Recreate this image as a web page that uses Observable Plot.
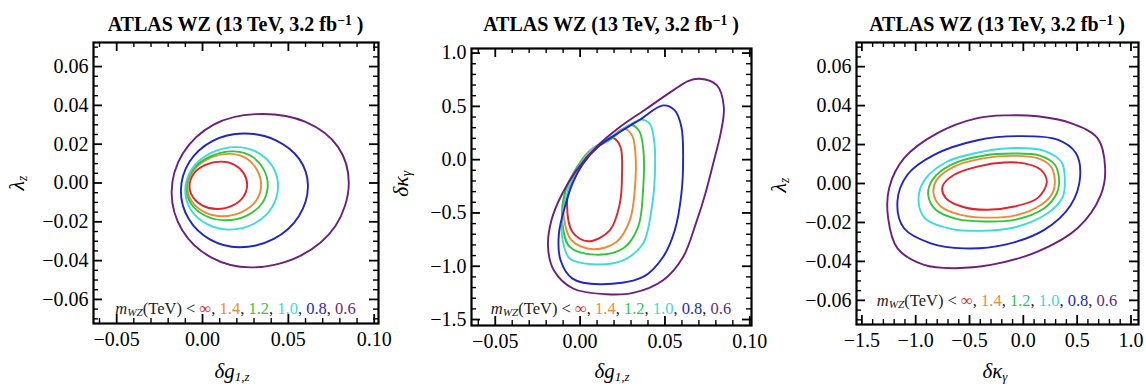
<!DOCTYPE html>
<html><head><meta charset="utf-8">
<script src="https://cdn.jsdelivr.net/npm/d3@7"></script>
<script src="https://cdn.jsdelivr.net/npm/@observablehq/plot@0.6"></script>
<style>
html,body{margin:0;padding:0;background:#fff;}
#root{position:relative;width:1146px;height:389px;overflow:hidden;font-family:"Liberation Serif","Times New Roman",serif;color:#000;}
.pnl{position:absolute;top:0;}
.pnl svg{overflow:visible;}
.t{position:absolute;white-space:nowrap;line-height:1;transform:translateX(-50%);}
.title{font-weight:bold;font-size:20px;}
.title sup{font-size:0.68em;position:relative;top:-0.45em;vertical-align:baseline;}
.xl{font-size:21px;font-style:italic;}
.yl{position:absolute;white-space:nowrap;line-height:1;font-size:22px;font-style:italic;transform:translate(-50%,-50%) rotate(-90deg);}
.xl sub,.yl sub{font-size:0.62em;position:relative;top:0.22em;vertical-align:baseline;}
.leg{font-size:16.5px;color:#222;}
.leg sub{font-size:0.68em;position:relative;top:0.25em;vertical-align:baseline;}
</style></head><body><div id="root"></div>
<script>
// ---- data ----
const massCuts = ["∞", "1.4", "1.2", "1.0", "0.8", "0.6"];

// Panel 1: (δg1,z , λz)
const p1_inf = [[0.0260,-0.0010],[0.0240,0.0050],[0.0185,0.0094],[0.0110,0.0110],[0.0017,0.0093],[-0.0051,0.0048],[-0.0076,-0.0015],[-0.0054,-0.0075],[0.0004,-0.0118],[0.0085,-0.0134],[0.0173,-0.0117],[0.0237,-0.0072]];
const p1_14 = [[0.0341,-0.0015],[0.0317,0.0068],[0.0253,0.0128],[0.0165,0.0150],[0.0039,0.0127],[-0.0053,0.0063],[-0.0087,-0.0025],[-0.0060,-0.0098],[0.0014,-0.0151],[0.0115,-0.0171],[0.0228,-0.0150],[0.0311,-0.0093]];
const p1_12 = [[0.0380,-0.0015],[0.0354,0.0074],[0.0283,0.0139],[0.0185,0.0163],[0.0045,0.0137],[-0.0058,0.0067],[-0.0095,-0.0030],[-0.0064,-0.0111],[0.0020,-0.0170],[0.0135,-0.0192],[0.0258,-0.0168],[0.0347,-0.0104]];
const p1_10 = [[0.0440,-0.0015],[0.0408,0.0085],[0.0320,0.0158],[0.0200,0.0185],[0.0050,0.0155],[-0.0061,0.0073],[-0.0101,-0.0040],[-0.0066,-0.0140],[0.0030,-0.0213],[0.0160,-0.0240],[0.0300,-0.0210],[0.0403,-0.0128]];
const p1_08 = [[0.0614,-0.0010],[0.0564,0.0123],[0.0427,0.0220],[0.0240,0.0255],[0.0057,0.0216],[-0.0077,0.0108],[-0.0126,-0.0040],[-0.0080,-0.0186],[0.0045,-0.0292],[0.0215,-0.0331],[0.0415,-0.0288],[0.0561,-0.0171]];
const p1_06 = [[0.0852,-0.0005],[0.0790,0.0185],[0.0600,0.0315],[0.0310,0.0355],[0.0065,0.0301],[-0.0114,0.0153],[-0.0180,-0.0050],[-0.0118,-0.0243],[0.0050,-0.0383],[0.0280,-0.0435],[0.0566,-0.0377],[0.0775,-0.0220]];

// Panel 2: (δg1,z , δκγ)
const p2_inf = [[0.0194,0.203],[0.0238,0.119],[0.0247,-0.131],[0.0234,-0.4125],[0.0175,-0.6625],[0.0047,-0.766],[-0.0045,-0.678],[-0.0077,-0.4125],[-0.0057,-0.225],[-0.0002,-0.053],[0.0096,0.1125]];
const p2_14 = [[0.0257,0.291],[0.0306,0.228],[0.0326,0.056],[0.0322,-0.2875],[0.0293,-0.569],[0.0214,-0.772],[0.0077,-0.841],[-0.0051,-0.756],[-0.0096,-0.5375],[-0.0090,-0.319],[-0.0041,-0.131],[0.0057,0.0875],[0.0165,0.185]];
const p2_12 = [[0.0297,0.325],[0.0348,0.269],[0.0373,0.0875],[0.0371,-0.2875],[0.0342,-0.631],[0.0253,-0.834],[0.0086,-0.891],[-0.0061,-0.819],[-0.0104,-0.600],[-0.0096,-0.350],[-0.0041,-0.131],[0.0057,0.072],[0.0185,0.197]];
const p2_10 = [[0.0355,0.375],[0.0410,0.3375],[0.0436,0.181],[0.0440,-0.1625],[0.0420,-0.475],[0.0371,-0.7875],[0.0253,-0.944],[0.0067,-0.981],[-0.0061,-0.928],[-0.0106,-0.725],[-0.0100,-0.475],[-0.0071,-0.2875],[-0.0022,-0.100],[0.0077,0.103],[0.0214,0.244]];
const p2_08 = [[0.0489,0.509],[0.0558,0.4625],[0.0597,0.306],[0.0607,-0.006],[0.0597,-0.319],[0.0558,-0.6625],[0.0489,-0.9125],[0.0371,-1.100],[0.0116,-1.169],[-0.0045,-1.116],[-0.0115,-0.944],[-0.0125,-0.694],[-0.0084,-0.4125],[-0.0045,-0.225],[0.0018,-0.0375],[0.0116,0.134],[0.0234,0.259],[0.0352,0.375]];
const p2_06 = [[0.0705,0.759],[0.0807,0.697],[0.0847,0.494],[0.0830,0.260],[0.0790,0.000],[0.0738,-0.319],[0.0682,-0.600],[0.0607,-0.9125],[0.0489,-1.131],[0.0312,-1.250],[0.0155,-1.2625],[-0.0041,-1.209],[-0.0155,-1.0375],[-0.0189,-0.819],[-0.0169,-0.569],[-0.0110,-0.334],[-0.0022,-0.100],[0.0096,0.119],[0.0234,0.306],[0.0391,0.478],[0.0548,0.650],[0.0636,0.7375]];

// Panel 3: (δκγ , λz)
const p3_inf = [[0.218,0.0007],[0.163,0.0070],[0.008,0.0103],[-0.178,0.0108],[-0.426,0.0087],[-0.643,0.0045],[-0.751,-0.0015],[-0.720,-0.0075],[-0.550,-0.0122],[-0.333,-0.0135],[-0.085,-0.0118],[0.132,-0.0075]];
const p3_14 = [[0.293,0.0010],[0.256,0.0087],[0.132,0.0130],[-0.116,0.0142],[-0.364,0.0130],[-0.643,0.0087],[-0.804,0.0019],[-0.835,-0.0050],[-0.767,-0.0118],[-0.581,-0.0161],[-0.364,-0.0175],[-0.085,-0.0165],[0.163,-0.0110],[0.271,-0.0050]];
const p3_12 = [[0.333,0.0010],[0.293,0.0096],[0.147,0.0144],[-0.085,0.0154],[-0.364,0.0144],[-0.674,0.0096],[-0.844,0.0019],[-0.884,-0.0058],[-0.813,-0.0135],[-0.612,-0.0183],[-0.364,-0.0195],[-0.085,-0.0187],[0.194,-0.0127],[0.311,-0.0050]];
const p3_10 = [[0.386,0.0010],[0.355,0.0110],[0.194,0.0168],[-0.054,0.0182],[-0.364,0.0165],[-0.705,0.0113],[-0.915,0.0020],[-0.974,-0.0080],[-0.915,-0.0178],[-0.674,-0.0233],[-0.395,-0.0243],[-0.085,-0.0226],[0.225,-0.0153],[0.364,-0.0072]];
const p3_08 = [[0.528,0.0036],[0.488,0.0156],[0.318,0.0225],[-0.054,0.0243],[-0.426,0.0222],[-0.829,0.0147],[-1.077,0.0045],[-1.170,-0.0093],[-1.108,-0.0230],[-0.860,-0.0307],[-0.550,-0.0333],[-0.178,-0.0315],[0.194,-0.0238],[0.441,-0.0110]];
const p3_06 = [[0.760,0.0079],[0.689,0.0233],[0.441,0.0310],[0.132,0.0345],[-0.147,0.0350],[-0.426,0.0336],[-0.798,0.0259],[-1.108,0.0130],[-1.247,-0.0024],[-1.256,-0.0178],[-1.169,-0.0333],[-0.922,-0.0418],[-0.643,-0.0435],[-0.302,-0.0418],[0.132,-0.0350],[0.503,-0.0230],[0.720,-0.0058]];

// tick values
const dgTicks = [-0.05, 0, 0.05, 0.10];
const lzTicks = [-0.06, -0.04, -0.02, 0, 0.02, 0.04, 0.06];
const dkTicks = [-1.5, -1.0, -0.5, 0, 0.5, 1.0];

// ---- styles ----
const palette = ["#e3222a", "#ee8a36", "#33c63a", "#3adcdc", "#1f24cc", "#6c1f7c"];
const FONT = '"Liberation Serif","Times New Roman",serif';

function minorTicks(domain, step, majors) {
  const a = Math.ceil(domain[0] / step - 1e-9), b = Math.floor(domain[1] / step + 1e-9);
  return d3.range(a, b + 1).map(i => +(i * step).toFixed(6))
    .filter(v => !majors.some(m => Math.abs(m - v) < step / 10));
}

function panel(cfg) {
  const {contours, xDomain, yDomain, width, height, mT, mR, mB, mL,
         xMajor, yMajor, xStep, yStep, xFmt, yFmt} = cfg;
  const ih = height - mT - mB, iw = width - mL - mR;
  const kx = (xDomain[1] - xDomain[0]) / iw, ky = (yDomain[1] - yDomain[0]) / ih;
  const rows = [];
  contours.forEach((pts, k) => pts.forEach(([x, y]) => rows.push({m: massCuts[k], x, y})));
  const xMin = minorTicks(xDomain, xStep, xMajor);
  const yMin = minorTicks(yDomain, yStep, yMajor);
  const MAJ = 9, MIN = 5;
  const xt = (vals, len, sw) => [
    Plot.ruleX(vals, {x: d => d, y1: yDomain[0], y2: yDomain[0] + len * ky, stroke: "#000", strokeWidth: sw}),
    Plot.ruleX(vals, {x: d => d, y1: yDomain[1], y2: yDomain[1] - len * ky, stroke: "#000", strokeWidth: sw})];
  const yt = (vals, len, sw) => [
    Plot.ruleY(vals, {y: d => d, x1: xDomain[0], x2: xDomain[0] + len * kx, stroke: "#000", strokeWidth: sw}),
    Plot.ruleY(vals, {y: d => d, x1: xDomain[1], x2: xDomain[1] - len * kx, stroke: "#000", strokeWidth: sw})];
  return Plot.plot({
    width, height, marginTop: mT, marginRight: mR, marginBottom: mB, marginLeft: mL,
    style: {background: "transparent", overflow: "visible", fontFamily: FONT, fontSize: "20px", color: "#000"},
    x: {domain: xDomain}, y: {domain: yDomain},
    color: {domain: massCuts, range: palette},
    marks: [
      Plot.line(rows, {x: "x", y: "y", z: "m", stroke: "m", strokeWidth: 1.9, curve: "catmull-rom-closed"}),
      ...xt(xMajor, MAJ, 1.8), ...xt(xMin, MIN, 1.4),
      ...yt(yMajor, MAJ, 1.8), ...yt(yMin, MIN, 1.4),
      Plot.axisX(xMajor, {tickSize: 0, tickPadding: 8, tickFormat: xFmt, label: null, fontSize: 20}),
      Plot.axisY(yMajor, {tickSize: 0, tickPadding: 5, tickFormat: yFmt, label: null, fontSize: 20}),
      Plot.frame({stroke: "#000", strokeWidth: 2.2})
    ]
  });
}

const root = document.getElementById("root");
function place(node, left) {
  const d = document.createElement("div");
  d.className = "pnl"; d.style.left = left + "px";
  d.appendChild(node); root.appendChild(d);
}
function text(cls, html, x, y) {
  const d = document.createElement("div");
  d.className = cls; d.innerHTML = html;
  d.style.left = x + "px"; d.style.top = y + "px";
  root.appendChild(d);
}

const f2 = d3.format(".2f"), f1 = d3.format(".1f");

place(panel({contours: [p1_inf, p1_14, p1_12, p1_10, p1_08, p1_06],
  xDomain: [-0.0635, 0.1025], yDomain: [-0.0724, 0.0724],
  width: 390, height: 360, mT: 42, mR: 12, mB: 37, mL: 93,
  xMajor: dgTicks, yMajor: lzTicks, xStep: 0.01, yStep: 0.005, xFmt: f2, yFmt: f2}), 0);

place(panel({contours: [p2_inf, p2_14, p2_12, p2_10, p2_08, p2_06],
  xDomain: [-0.064, 0.101], yDomain: [-1.556, 1.043],
  width: 375, height: 360, mT: 48, mR: 14, mB: 35, mL: 81,
  xMajor: dgTicks, yMajor: dkTicks, xStep: 0.01, yStep: 0.1, xFmt: f2, yFmt: f1}), 390);

place(panel({contours: [p3_inf, p3_14, p3_12, p3_10, p3_08, p3_06],
  xDomain: [-1.55, 1.07], yDomain: [-0.0724, 0.0724],
  width: 381, height: 360, mT: 42, mR: 8, mB: 36, mL: 91,
  xMajor: dkTicks, yMajor: lzTicks, xStep: 0.1, yStep: 0.005, xFmt: f1, yFmt: f2}), 765);

const titleHTML = 'ATLAS WZ (13 TeV, 3.2 fb<sup>−1</sup> )';
const legendHTML = '<i>m</i><sub><i>WZ</i></sub>(TeV) &lt; ' + massCuts.map((m, i) =>
  `<span style="color:${palette[i]}">${m}</span>`).join(', ');

const centers = [235.5, 611, 997];
centers.forEach(cx => text("t title", titleHTML, cx, 13.7));
text("t leg", legendHTML, 235.5, 300.5);
text("t leg", legendHTML, 611, 300.5);
text("t leg", legendHTML, 997, 292.5);

text("t xl", 'δg<sub>1,z</sub>', 232, 361);
text("t xl", 'δg<sub>1,z</sub>', 612, 361);
text("t xl", 'δκ<sub>γ</sub>', 995, 361);

text("yl", 'λ<sub>z</sub>', 17, 183);
text("yl", 'δκ<sub>γ</sub>', 401, 184);
text("yl", 'λ<sub>z</sub>', 779, 185);
</script></body></html>
